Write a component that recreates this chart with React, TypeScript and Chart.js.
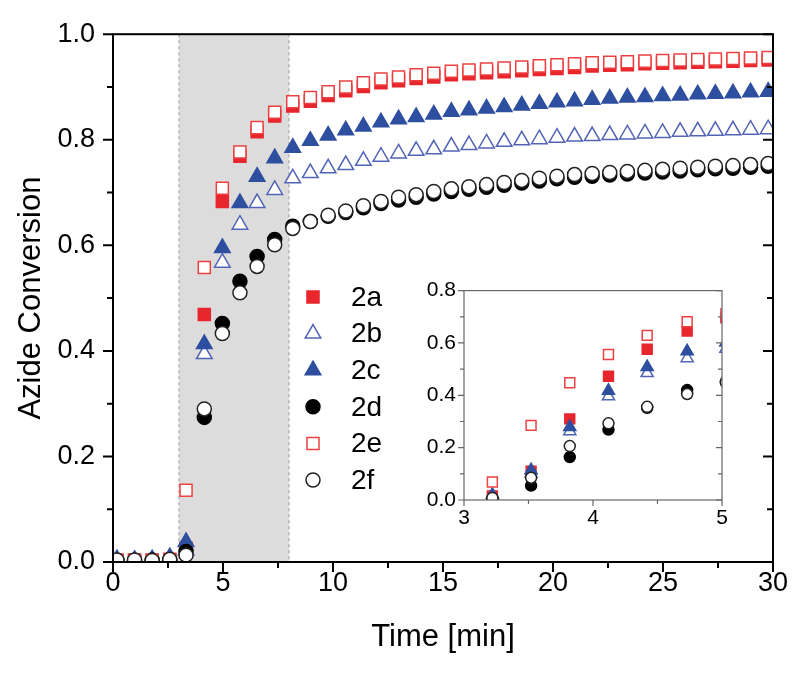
import { useEffect, useRef } from 'react';
import { Chart, registerables } from 'chart.js';
import { drawPoint } from 'chart.js/helpers';

Chart.register(...registerables);

const FONT = '"Liberation Sans", Arial, sans-serif';

// main panel: sampling times [min]
const times = [
  0.18, 0.98, 1.78, 2.58, 3.32, 4.15, 4.97, 5.77, 6.55, 7.35,
  8.17, 8.97, 9.78, 10.58, 11.38, 12.18, 12.98, 13.78, 14.58, 15.38,
  16.18, 16.98, 17.78, 18.58, 19.38, 20.18, 20.98, 21.78, 22.58, 23.38,
  24.18, 24.98, 25.78, 26.58, 27.38, 28.18, 28.98, 29.78,
];

const conv2a = [
  0.003, 0.004, 0.003, 0.004, 0.026, 0.469, 0.683, 0.769, 0.815, 0.845,
  0.864, 0.873, 0.884, 0.893, 0.901, 0.908, 0.912, 0.916, 0.919, 0.923,
  0.925, 0.927, 0.929, 0.931, 0.933, 0.935, 0.937, 0.940, 0.941, 0.942,
  0.944, 0.945, 0.946, 0.947, 0.948, 0.949, 0.950, 0.951,
];
const conv2b = [
  0.004, 0.003, 0.004, 0.007, 0.022, 0.394, 0.567, 0.639, 0.680, 0.705,
  0.727, 0.737, 0.746, 0.752, 0.760, 0.768, 0.774, 0.779, 0.782, 0.787,
  0.790, 0.793, 0.796, 0.799, 0.801, 0.804, 0.806, 0.807, 0.809, 0.810,
  0.812, 0.813, 0.815, 0.816, 0.817, 0.818, 0.819, 0.820,
];
const conv2c = [
  0.005, 0.004, 0.005, 0.009, 0.038, 0.413, 0.595, 0.680, 0.730, 0.765,
  0.785, 0.798, 0.808, 0.818, 0.825, 0.833, 0.839, 0.843, 0.848, 0.853,
  0.856, 0.859, 0.862, 0.865, 0.868, 0.871, 0.873, 0.876, 0.878, 0.880,
  0.881, 0.883, 0.884, 0.886, 0.887, 0.888, 0.890, 0.891,
];
const conv2d = [
  0.003, 0.003, 0.004, 0.004, 0.020, 0.274, 0.452, 0.532, 0.579, 0.611,
  0.636, 0.645, 0.655, 0.662, 0.671, 0.679, 0.686, 0.691, 0.697, 0.702,
  0.706, 0.710, 0.714, 0.718, 0.722, 0.726, 0.729, 0.731, 0.733, 0.735,
  0.737, 0.739, 0.741, 0.743, 0.745, 0.746, 0.748, 0.750,
];
const conv2e = [
  0.004, 0.003, 0.004, 0.005, 0.136, 0.558, 0.708, 0.777, 0.823, 0.852,
  0.872, 0.880, 0.891, 0.900, 0.908, 0.915, 0.919, 0.923, 0.926, 0.930,
  0.932, 0.934, 0.936, 0.938, 0.940, 0.942, 0.944, 0.946, 0.947, 0.948,
  0.949, 0.950, 0.951, 0.952, 0.953, 0.954, 0.955, 0.956,
];
const conv2f = [
  0.004, 0.004, 0.003, 0.005, 0.013, 0.290, 0.433, 0.510, 0.560, 0.601,
  0.632, 0.645, 0.657, 0.665, 0.675, 0.683, 0.691, 0.696, 0.702, 0.707,
  0.711, 0.715, 0.719, 0.723, 0.727, 0.731, 0.734, 0.736, 0.738, 0.740,
  0.742, 0.744, 0.746, 0.748, 0.750, 0.751, 0.753, 0.755,
];

// inset: first minutes
const insetTimes = [3.22, 3.52, 3.82, 4.12, 4.42, 4.73, 5.03];
const inset2a = [0.015, 0.110, 0.310, 0.473, 0.576, 0.645, 0.696];
const inset2b = [0.010, 0.100, 0.263, 0.396, 0.485, 0.542, 0.578];
const inset2c = [0.020, 0.114, 0.279, 0.417, 0.508, 0.568, 0.602];
const inset2d = [0.003, 0.055, 0.164, 0.269, 0.352, 0.420, 0.452];
const inset2e = [0.069, 0.285, 0.448, 0.556, 0.629, 0.681, 0.711];
const inset2f = [0.008, 0.085, 0.206, 0.293, 0.356, 0.405, 0.450];

// shaded region [min]
const bandStart = 3;
const bandEnd = 8;

const RED = '#e8262d';
const RED_OPEN = '#ee4040';
const BLUE = '#2e4fa0';
const BLUE_OPEN = '#5264b5';

const series = [
  { label: '2a', main: conv2a, inset: inset2a, style: 'rect', fill: RED, stroke: RED, r: 8.5, ri: 7 },
  { label: '2b', main: conv2b, inset: inset2b, style: 'triangle', fill: '#ffffff', stroke: BLUE_OPEN, r: 9, ri: 7 },
  { label: '2c', main: conv2c, inset: inset2c, style: 'triangle', fill: BLUE, stroke: BLUE, r: 9, ri: 7 },
  { label: '2d', main: conv2d, inset: inset2d, style: 'circle', fill: '#000000', stroke: '#000000', r: 7, ri: 5.5 },
  { label: '2e', main: conv2e, inset: inset2e, style: 'rect', fill: '#ffffff', stroke: RED_OPEN, r: 8.5, ri: 7 },
  { label: '2f', main: conv2f, inset: inset2f, style: 'circle', fill: '#ffffff', stroke: '#222222', r: 7, ri: 5.5 },
];

function makeDatasets(xs: number[], pick: 'main' | 'inset') {
  return series.map((s, i) => ({
    label: s.label,
    data: xs.map((x, k) => ({ x, y: s[pick][k] })),
    pointStyle: s.style,
    pointRadius: pick === 'main' ? s.r : s.ri,
    pointBackgroundColor: s.fill,
    pointBorderColor: s.stroke,
    pointBorderWidth: 1.5,
    showLine: false,
    order: series.length - i,
    clip: 0,
  }));
}

function tickMarks(chart: any, opts: any) {
  const { ctx, chartArea: a, scales } = chart;
  const x = scales.x;
  const y = scales.y;
  ctx.save();
  ctx.strokeStyle = opts.color;
  ctx.lineWidth = opts.width;
  ctx.beginPath();
  const xt = x.ticks.map((t: any) => t.value);
  const yt = y.ticks.map((t: any) => t.value);
  const mids = (arr: number[]) => arr.slice(1).map((v, k) => (v + arr[k]) / 2);
  const xMarks = [...xt.map((v: number) => [v, opts.major]), ...mids(xt).map((v) => [v, opts.minor])];
  const yMarks = [...yt.map((v: number) => [v, opts.major]), ...mids(yt).map((v) => [v, opts.minor])];
  xMarks.forEach(([v, len]) => {
    const px = x.getPixelForValue(v);
    ctx.moveTo(px, a.bottom);
    ctx.lineTo(px, a.bottom + len);
  });
  yMarks.forEach(([v, len]) => {
    const py = y.getPixelForValue(v);
    ctx.moveTo(a.left, py);
    ctx.lineTo(a.left - len, py);
    ctx.moveTo(a.right, py);
    ctx.lineTo(a.right - len, py);
  });
  ctx.stroke();
  ctx.strokeRect(a.left, a.top, a.right - a.left, a.bottom - a.top);
  ctx.restore();
}

const mainDecor = {
  id: 'mainDecor',
  beforeDatasetsDraw(chart: any) {
    const { ctx, chartArea: a, scales } = chart;
    const x0 = scales.x.getPixelForValue(bandStart);
    const x1 = scales.x.getPixelForValue(bandEnd);
    ctx.save();
    ctx.fillStyle = '#dcdcdc';
    ctx.fillRect(x0, a.top, x1 - x0, a.bottom - a.top);
    ctx.strokeStyle = '#b4b4b4';
    ctx.lineWidth = 1.5;
    ctx.setLineDash([3, 3]);
    ctx.beginPath();
    ctx.moveTo(x0, a.top);
    ctx.lineTo(x0, a.bottom);
    ctx.moveTo(x1, a.top);
    ctx.lineTo(x1, a.bottom);
    ctx.stroke();
    ctx.restore();
  },
  afterDatasetsDraw(chart: any) {
    const { ctx } = chart;
    tickMarks(chart, { color: '#000', width: 2, major: 10, minor: 6 });
    // legend inside the plot
    ctx.save();
    ctx.font = `28px ${FONT}`;
    ctx.textBaseline = 'middle';
    series.forEach((s, i) => {
      const ly = 297 + i * 36.6;
      ctx.fillStyle = s.fill;
      ctx.strokeStyle = s.stroke;
      ctx.lineWidth = 1.5;
      drawPoint(ctx, { pointStyle: s.style, radius: s.r, rotation: 0, borderWidth: 1.5 } as any, 313, ly);
      ctx.fillStyle = '#000';
      ctx.fillText(s.label, 351, ly + 1);
    });
    ctx.restore();
  },
};

const insetDecor = {
  id: 'insetDecor',
  afterDatasetsDraw(chart: any) {
    tickMarks(chart, { color: '#666', width: 1.2, major: 6, minor: 4 });
  },
};

export default function App() {
  const mainRef = useRef<HTMLCanvasElement>(null);
  const insetRef = useRef<HTMLCanvasElement>(null);

  useEffect(() => {
    document.body.style.margin = '0';
    let mainChart: Chart | null = null;
    let insetChart: Chart | null = null;

    if (mainRef.current) {
      mainChart = new Chart(mainRef.current, {
        type: 'scatter',
        data: { datasets: makeDatasets(times, 'main') as any },
        options: {
          responsive: false,
          animation: false,
          layout: { padding: { top: 32, right: 27, left: 0, bottom: 0 } },
          plugins: { legend: { display: false }, tooltip: { enabled: false } },
          scales: {
            x: {
              type: 'linear',
              min: 0,
              max: 30,
              grid: { display: false, drawTicks: false },
              border: { display: false },
              ticks: { stepSize: 5, color: '#000', padding: 5, font: { family: FONT, size: 27 } },
              title: {
                display: true,
                text: 'Time [min]',
                color: '#000',
                font: { family: FONT, size: 31 },
                padding: { top: 0, bottom: 20 },
              },
              afterFit: (scale: any) => { scale.height = 114; },
            },
            y: {
              min: 0,
              max: 1,
              grid: { display: false, drawTicks: false },
              border: { display: false },
              ticks: {
                stepSize: 0.2,
                color: '#000',
                padding: 18,
                font: { family: FONT, size: 27 },
                callback: (v: any) => Number(v).toFixed(1),
              },
              title: {
                display: true,
                text: 'Azide Conversion',
                color: '#000',
                font: { family: FONT, size: 31 },
                padding: { top: 13, bottom: 0 },
              },
              afterFit: (scale: any) => { scale.width = 113; },
            },
          },
        },
        plugins: [mainDecor],
      });
    }

    if (insetRef.current) {
      insetChart = new Chart(insetRef.current, {
        type: 'scatter',
        data: { datasets: makeDatasets(insetTimes, 'inset') as any },
        options: {
          responsive: false,
          animation: false,
          layout: { padding: { top: 12, right: 18, left: 0, bottom: 0 } },
          plugins: { legend: { display: false }, tooltip: { enabled: false } },
          scales: {
            x: {
              type: 'linear',
              min: 3,
              max: 5,
              grid: { display: false, drawTicks: false },
              border: { display: false },
              ticks: { stepSize: 1, color: '#000', padding: 6, font: { family: FONT, size: 21 } },
              afterFit: (scale: any) => { scale.height = 40; },
            },
            y: {
              min: 0,
              max: 0.8,
              grid: { display: false, drawTicks: false },
              border: { display: false },
              ticks: {
                stepSize: 0.2,
                color: '#000',
                padding: 8,
                font: { family: FONT, size: 21 },
                callback: (v: any) => Number(v).toFixed(1),
              },
              afterFit: (scale: any) => { scale.width = 64; },
            },
          },
        },
        plugins: [insetDecor],
      });
    }

    return () => {
      mainChart?.destroy();
      insetChart?.destroy();
    };
  }, []);

  return (
    <div style={{ position: 'relative', width: 800, height: 676, background: '#fff' }}>
      <canvas ref={mainRef} width={800} height={676} style={{ position: 'absolute', left: 0, top: 0 }} />
      <canvas ref={insetRef} width={340} height={270} style={{ position: 'absolute', left: 400, top: 270 }} />
    </div>
  );
}
